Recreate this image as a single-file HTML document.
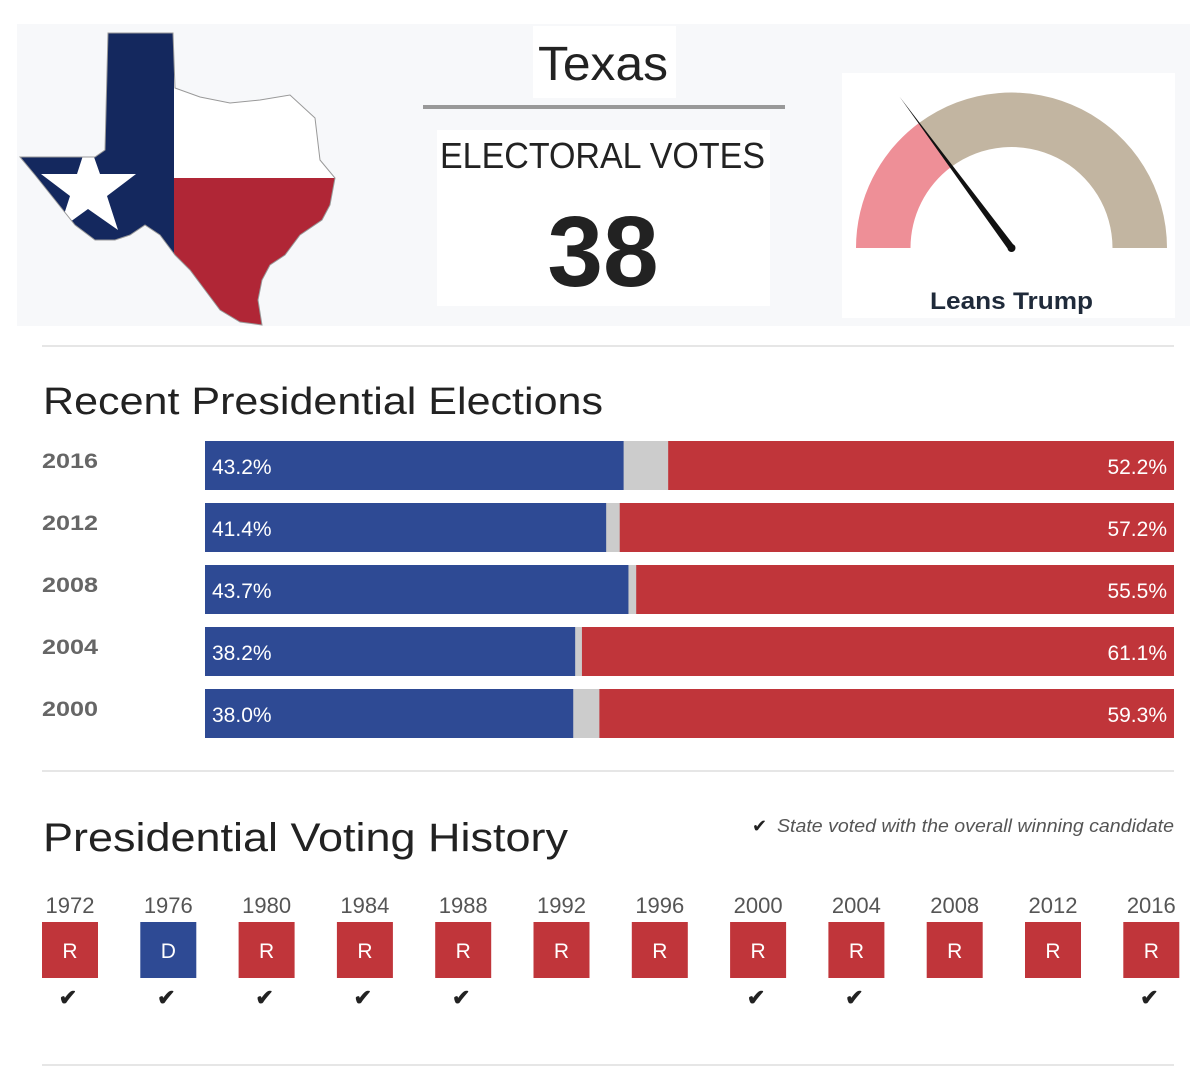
<!DOCTYPE html>
<html><head><meta charset="utf-8"><style>
html,body{margin:0;padding:0;background:#fff;}
svg{display:block;font-family:"Liberation Sans",sans-serif;}
</style></head><body>
<svg id="root" width="1200" height="1066" viewBox="0 0 1200 1066" xmlns="http://www.w3.org/2000/svg">
  <rect x="17" y="24" width="1173" height="302" fill="#f7f8fa"/>
  <defs>
    <clipPath id="tx">
      <polygon points="108,33 173,33 175,88 200,97 230,103 260,100 290,95 315,118 320,160 335,178 330,205 322,220 300,235 285,255 270,265 262,280 258,300 262,325 240,322 220,310 205,290 190,270 175,255 160,235 145,225 130,235 115,240 95,240 75,225 55,200 35,175 20,157 95,157 105,150"/>
    </clipPath>
  </defs>
  <g clip-path="url(#tx)">
    <rect x="0" y="0" width="174" height="340" fill="#14285e"/>
    <rect x="174" y="0" width="200" height="178" fill="#ffffff"/>
    <rect x="174" y="178" width="200" height="160" fill="#b02636"/>
    <polygon fill="#fff" points="88,140 100,174 136,174 107,196 118,230 88,209 59,230 70,196 41,174 77,174"/>
  </g>
  <polygon points="108,33 173,33 175,88 200,97 230,103 260,100 290,95 315,118 320,160 335,178 330,205 322,220 300,235 285,255 270,265 262,280 258,300 262,325 240,322 220,310 205,290 190,270 175,255 160,235 145,225 130,235 115,240 95,240 75,225 55,200 35,175 20,157 95,157 105,150" fill="none" stroke="#999" stroke-width="1"/>

  <rect x="533" y="26" width="143" height="72" fill="#fff"/>
  <text x="538" y="80" font-size="48" fill="#222" textLength="130" lengthAdjust="spacingAndGlyphs">Texas</text>
  <rect x="423" y="105" width="362" height="4" fill="#999"/>
  <rect x="437" y="130" width="333" height="176" fill="#fff"/>
  <text x="440" y="168" font-size="36" fill="#222" textLength="325" lengthAdjust="spacingAndGlyphs">ELECTORAL VOTES</text>
  <text x="603" y="286" text-anchor="middle" font-size="100" font-weight="bold" fill="#222">38</text>

  <rect x="842" y="73" width="333" height="245" fill="#fff"/>
  <g id="gauge"></g>
  <text x="930" y="309" font-size="24" font-weight="bold" fill="#1f2a3a" textLength="163" lengthAdjust="spacingAndGlyphs">Leans Trump</text>

  <rect x="42" y="345" width="1132" height="2" fill="#e6e6e6"/>
  <text x="43" y="414" font-size="38" fill="#222" textLength="560" lengthAdjust="spacingAndGlyphs">Recent Presidential Elections</text>
  <g id="bars"></g>

  <rect x="42" y="770" width="1132" height="2" fill="#e6e6e6"/>
  <text x="43" y="851" font-size="40" fill="#222" textLength="525" lengthAdjust="spacingAndGlyphs">Presidential Voting History</text>
  <text x="752" y="832" font-size="18" fill="#222">✔</text>
  <text x="777" y="832" font-size="18" font-style="italic" fill="#555" textLength="397" lengthAdjust="spacingAndGlyphs">State voted with the overall winning candidate</text>
  <g id="hist"></g>
  <rect x="42" y="1064" width="1132" height="2" fill="#e6e6e6"/>
</svg>
<script>
const NS='http://www.w3.org/2000/svg';
const gaugeValue=[53.5]; // degrees from left, lean marker
const barYears=['2016','2012','2008','2004','2000'];
const demPct=[43.2,41.4,43.7,38.2,38.0];
const repPct=[52.2,57.2,55.5,61.1,59.3];
const histYears=['1972','1976','1980','1984','1988','1992','1996','2000','2004','2008','2012','2016'];
const histParty=['R','D','R','R','R','R','R','R','R','R','R','R'];
const histWinner=[1,1,1,1,1,0,0,1,1,0,0,1];

function mk(tag,attrs,parent){const e=document.createElementNS(NS,tag);for(const k in attrs)e.setAttribute(k,attrs[k]);parent.appendChild(e);return e;}

const g=document.getElementById('gauge');
const cx=1011.5,cy=248,R=155.5,r=101;
function pt(a,rad){const t=Math.PI-a*Math.PI/180;return [cx+rad*Math.cos(t),cy-rad*Math.sin(t)];}
function arc(a0,a1){const p0=pt(a0,R),p1=pt(a1,R),q1=pt(a1,r),q0=pt(a0,r);const lg=(a1-a0)>180?1:0;
return `M${p0} A${R},${R} 0 ${lg} 1 ${p1} L${q1} A${r},${r} 0 ${lg} 0 ${q0} Z`;}
const a1=mk('path',{d:arc(0,gaugeValue[0]),fill:'#ee8f97'},g);


const a2=mk('path',{d:arc(gaugeValue[0],180),fill:'#c2b5a1'},g);


const tip=pt(gaugeValue[0],188);
const t=Math.PI-gaugeValue[0]*Math.PI/180;
const nx=Math.sin(t)*3.5,ny=Math.cos(t)*3.5;
const nd=mk('polygon',{points:`${tip} ${cx+nx},${cy+ny} ${cx-nx},${cy-ny}`,fill:'#111'},g);


const nc=mk('circle',{cx:cx,cy:cy,r:4,fill:'#111'},g);



const b=document.getElementById('bars');
const x0=205,W=969,y0=441,rowH=62,bh=49;
const xs=v=>x0+W*v/100;
barYears.forEach((yr,i)=>{
  const y=y0+i*rowH;
  const yl=mk('text',{x:42,y:y+27,'font-size':21,'font-weight':'bold',fill:'#666',textLength:56,lengthAdjust:'spacingAndGlyphs'},b);yl.textContent=yr;
  
  
  const gr=mk('rect',{x:x0,y:y,width:W,height:bh,fill:'#cccccc'},b);
  
  
  const bl=mk('rect',{x:x0,y:y,width:xs(demPct[i])-x0,height:bh,fill:'#2e4a94'},b);
  
  
  const rd=mk('rect',{x:xs(100-repPct[i]),y:y,width:x0+W-xs(100-repPct[i]),height:bh,fill:'#c0353a'},b);
  
  
  const dl=mk('text',{x:x0+7,y:y+33,'font-size':21,fill:'#fff'},b);dl.textContent=demPct[i].toFixed(1)+'%';
  
  
  const rl=mk('text',{x:x0+W-7,y:y+33,'font-size':21,fill:'#fff','text-anchor':'end'},b);rl.textContent=repPct[i].toFixed(1)+'%';
  
  
});

const h=document.getElementById('hist');
histYears.forEach((yr,i)=>{
  const x=42+i*98.3,cxh=x+28;
  const yt=mk('text',{x:cxh,y:913,'font-size':22,fill:'#555','text-anchor':'middle'},h);yt.textContent=yr;
  
  
  const bx=mk('rect',{x:x,y:922,width:56,height:56,fill:histParty[i]==='D'?'#2e4a94':'#c0353a'},h);
  
  
  const pl=mk('text',{x:cxh,y:958,'font-size':21,fill:'#fff','text-anchor':'middle'},h);pl.textContent=histParty[i];
  
  
  if(histWinner[i]){
    const ck=mk('text',{x:cxh-2,y:1005,'font-size':22,'font-weight':'bold',fill:'#222','text-anchor':'middle'},h);ck.textContent='✔';
    
    
  }
});
</script>
</body></html>
